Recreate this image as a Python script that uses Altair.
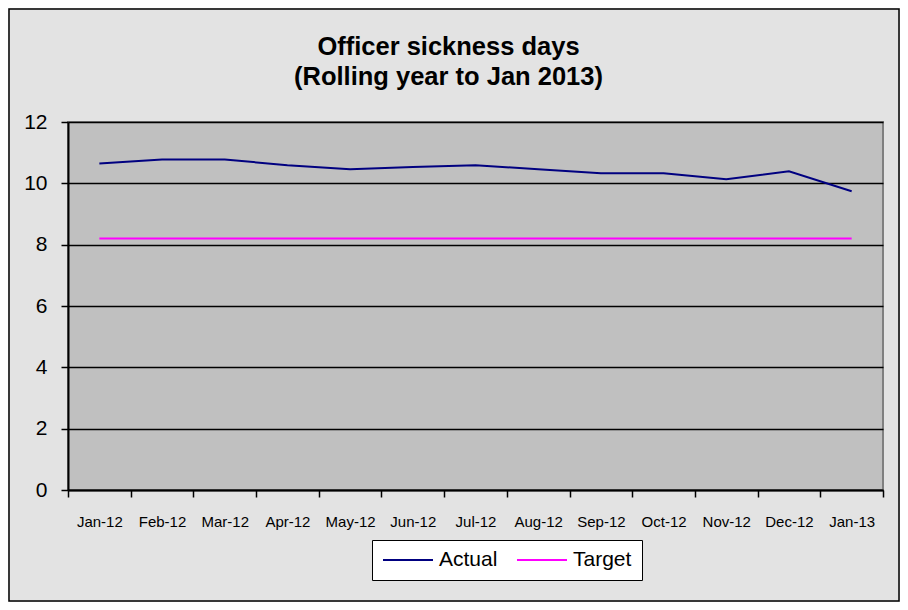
import altair as alt
import pandas as pd

months = ["Jan-12", "Feb-12", "Mar-12", "Apr-12", "May-12", "Jun-12", "Jul-12",
          "Aug-12", "Sep-12", "Oct-12", "Nov-12", "Dec-12", "Jan-13"]
actual = [10.65, 10.78, 10.78, 10.59, 10.46, 10.53, 10.59, 10.46, 10.33, 10.33, 10.13, 10.39, 9.74]
target = [8.2, 8.2, 8.2, 8.2, 8.2, 8.2, 8.2, 8.2, 8.2, 8.2, 8.2, 8.2, 8.2]
series = ["Actual", "Target"]
colors = ["#000080", "#ff00ff"]
y_ticks = [0, 2, 4, 6, 8, 10, 12]

rows = []
for m, a, t in zip(months, actual, target):
    rows.append({"month": m, "series": "Actual", "value": a})
    rows.append({"month": m, "series": "Target", "value": t})
df = pd.DataFrame(rows)

FONT = "Liberation Sans"
W, H = 815, 368

lines = alt.Chart(df).mark_line(strokeWidth=2).encode(
    x=alt.X("month:N", sort=months, bandPosition=0.5,
            scale=alt.Scale(type="band", paddingInner=0, paddingOuter=0),
            axis=alt.Axis(title=None, labelAngle=0, labelFontSize=15, labelFont=FONT,
                          labelColor="black", tickBand="extent", tickSize=7,
                          tickColor="black", tickWidth=1.5, domainColor="black",
                          domainWidth=2, labelPadding=17, grid=False)),
    y=alt.Y("value:Q", scale=alt.Scale(domain=[0, 12], nice=False),
            axis=alt.Axis(title=None, values=y_ticks, labelFontSize=21, labelFont=FONT,
                          labelColor="black", tickSize=7, tickColor="black",
                          tickWidth=1.5, domainColor="black", domainWidth=2,
                          labelPadding=14, grid=True, gridColor="black",
                          gridWidth=1.5)),
    color=alt.Color("series:N", scale=alt.Scale(domain=series, range=colors),
                    legend=alt.Legend(title=None, orient="none", legendX=304, legendY=418,
                                      direction="horizontal", fillColor="white",
                                      strokeColor="black", padding=10,
                                      symbolType="stroke", symbolSize=2500,
                                      symbolStrokeWidth=2, labelFontSize=21,
                                      labelFont=FONT, labelColor="black",
                                      labelOffset=5, columnPadding=18,
                                      clipHeight=20)),
)

border = alt.Chart(alt.Data(values=[{"a": 1}])).mark_rect(
    filled=False, stroke="black", strokeWidth=1.5
).encode(
    x=alt.value(-59), x2=alt.value(W + 16), y=alt.value(-113), y2=alt.value(H + 111)
)

chart = alt.layer(lines, border).properties(
    width=W, height=H,
    autosize=alt.AutoSizeParams(type="none"),
    padding={"left": 60, "top": 114, "right": 17, "bottom": 112},
    title=alt.TitleParams(text=["Officer sickness days", "(Rolling year to Jan 2013)"],
                          font=FONT, fontSize=25.5, fontWeight="bold", color="black",
                          anchor="middle", dx=-27, offset=0, dy=82, lineHeight=30),
).configure(background="#e3e3e3").configure_view(
    fill="#c0c0c0", stroke="#808080", strokeWidth=2
)

chart.save("out.html", embed_options={"renderer": "svg", "actions": False})
